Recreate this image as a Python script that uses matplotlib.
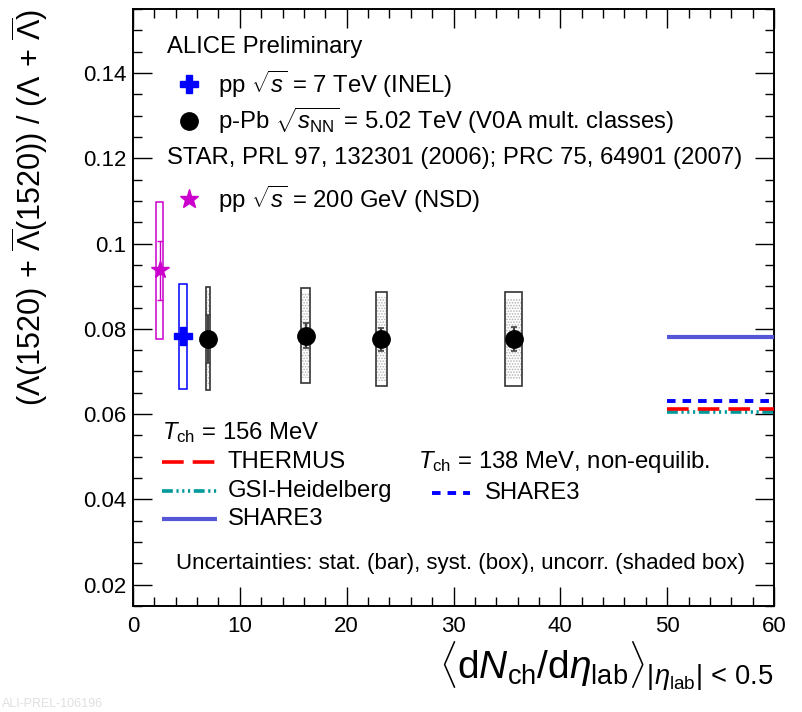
import matplotlib
matplotlib.use('Agg')
import matplotlib.pyplot as plt
from matplotlib.patches import Rectangle
from matplotlib.lines import Line2D
from matplotlib.ticker import MultipleLocator, FixedLocator

plt.rcParams['font.family'] = ['Liberation Sans', 'DejaVu Sans']
plt.rcParams['mathtext.fontset'] = 'custom'
plt.rcParams['mathtext.rm'] = 'Liberation Sans'
plt.rcParams['mathtext.it'] = 'Liberation Sans:italic'
plt.rcParams['mathtext.bf'] = 'Liberation Sans:bold'
plt.rcParams['mathtext.sf'] = 'Liberation Sans'
plt.rcParams['hatch.linewidth'] = 0.8

# ---------------- data ----------------
star_x = [2.5]
star_y = [0.0937]
star_stat = [0.0069]
star_sys = [0.0160]
star_bw = [0.7]

pp_x = [4.65]
pp_y = [0.0782]
pp_stat = [0.0012]
pp_sys = [0.0123]
pp_bw = [0.75]

ppb_x = [7.03, 16.15, 23.24, 35.64]
ppb_y = [0.0777, 0.0784, 0.0776, 0.0776]
ppb_stat = [0.0056, 0.0029, 0.0027, 0.0029]
ppb_sys = [0.0120, 0.0111, 0.0110, 0.0110]
ppb_unc = [0.0112, 0.0100, 0.0098, 0.0094]
ppb_bw = [0.42, 0.84, 1.03, 1.62]

model_x = [50, 60]
share3_eq = 0.0781
share3_neq = 0.0631
thermus = 0.0612
gsi = 0.0605

xticks = [0, 10, 20, 30, 40, 50, 60]
yticks = [0.02, 0.04, 0.06, 0.08, 0.1, 0.12, 0.14]
ytick_labels = ['0.02', '0.04', '0.06', '0.08', '0.1', '0.12', '0.14']

# ---------------- colours ----------------
c_star = '#cc00cc'
c_pp = '#0000ff'
c_share_eq = '#5656d8'
c_share_neq = '#0000ff'
c_thermus = '#ff0000'
c_gsi = '#009999'

W, H = 802, 712
fig = plt.figure(figsize=(W / 100, H / 100), dpi=100)
fig.patch.set_facecolor('white')


def px(x, y):
    return (x / W, 1 - y / H)


ax = fig.add_axes([133 / W, 1 - 606 / H, (774 - 133) / W, (606 - 9) / H])
ax.set_xlim(0, 60)
ax.set_ylim(0.015, 0.155)

ax.xaxis.set_major_locator(FixedLocator(xticks))
ax.xaxis.set_minor_locator(MultipleLocator(2))
ax.yaxis.set_major_locator(FixedLocator(yticks))
ax.set_yticklabels(ytick_labels)
ax.yaxis.set_minor_locator(MultipleLocator(0.005))
ax.tick_params(which='both', direction='in', top=True, right=True, width=1.0, colors='black')
ax.tick_params(which='major', length=13.5, labelsize=16, pad=5)
ax.tick_params(which='minor', length=6.8)
ax.tick_params(axis='x', which='major', pad=7)
for s in ax.spines.values():
    s.set_linewidth(1.4)

# ---------------- models ----------------
ax.plot(model_x, [share3_eq] * 2, color=c_share_eq, lw=3.0, solid_capstyle='butt', zorder=3)
ax.plot(model_x, [thermus] * 2, color=c_thermus, lw=2.6, dashes=(6, 2.5), zorder=3)
ax.plot(model_x, [gsi] * 2, color=c_gsi, lw=2.6, dashes=(3, 1, 0.6, 1, 0.6, 1, 0.6, 1), zorder=2)
ax.plot(model_x, [share3_neq] * 2, color=c_share_neq, lw=2.8, dashes=(2.2, 1.8), zorder=3)

# ---------------- STAR ----------------
for x, y, st, sy, bw in zip(star_x, star_y, star_stat, star_sys, star_bw):
    ax.add_patch(Rectangle((x - bw / 2, y - sy), bw, 2 * sy, fill=False,
                           edgecolor=c_star, lw=1.1, zorder=4))
ax.errorbar(star_x, star_y, yerr=star_stat, fmt='none', ecolor=c_star, elinewidth=1.0,
            capsize=2.5, capthick=1.0, zorder=5)
ax.plot(star_x, star_y, ls='none', marker='*', ms=13, color=c_star, mec=c_star, zorder=6)

# ---------------- pp 7 TeV ----------------
for x, y, sy, bw in zip(pp_x, pp_y, pp_sys, pp_bw):
    ax.add_patch(Rectangle((x - bw / 2, y - sy), bw, 2 * sy, fill=False,
                           edgecolor=c_pp, lw=1.1, zorder=4))
ax.errorbar(pp_x, pp_y, yerr=pp_stat, fmt='none', ecolor=c_pp, elinewidth=1.0, zorder=5)
ax.plot(pp_x, pp_y, ls='none', marker='P', ms=12.5, color=c_pp, mec=c_pp, zorder=6)

# ---------------- p-Pb ----------------
for x, y, sy, su, bw in zip(ppb_x, ppb_y, ppb_sys, ppb_unc, ppb_bw):
    ax.add_patch(Rectangle((x - bw / 2 + 0.06, y - su), bw - 0.12, 2 * su, facecolor='none',
                           edgecolor='#b4b4b4', hatch='......', lw=0, zorder=3))
    ax.add_patch(Rectangle((x - bw / 2, y - sy), bw, 2 * sy, fill=False,
                           edgecolor='#333333', lw=1.2, zorder=4))
ax.errorbar(ppb_x, ppb_y, yerr=ppb_stat, fmt='none', ecolor='#444444', elinewidth=1.6,
            capsize=2.5, capthick=1.2, zorder=5)
ax.plot(ppb_x, ppb_y, ls='none', marker='o', ms=12.5, color='black', zorder=6)

# ---------------- legends / texts ----------------
fs = 17.2
fig.text(*px(167, 47), 'ALICE Preliminary', fontsize=fs, ha='left', va='center')
fig.add_artist(Line2D([px(189, 84)[0]], [px(189, 84)[1]], marker='P', ms=12.5, color=c_pp, ls='none'))
fig.text(*px(218, 84), r'pp $\sqrt{s}$ = 7 TeV (INEL)', fontsize=fs, ha='left', va='center')
fig.add_artist(Line2D([px(189, 121)[0]], [px(189, 121)[1]], marker='o', ms=12.5, color='black', ls='none'))
fig.text(*px(218, 121), r'p-Pb $\sqrt{s_{\mathrm{NN}}}$ = 5.02 TeV (V0A mult. classes)', fontsize=fs,
         ha='left', va='center')
fig.text(*px(167, 158), 'STAR, PRL 97, 132301 (2006); PRC 75, 64901 (2007)', fontsize=fs,
         ha='left', va='center')
fig.add_artist(Line2D([px(189, 199)[0]], [px(189, 199)[1]], marker='*', ms=14, color=c_star, ls='none'))
fig.text(*px(218, 199), r'pp $\sqrt{s}$ = 200 GeV (NSD)', fontsize=fs, ha='left', va='center')

fig.text(*px(162, 433), r'$T_{\mathrm{ch}}$ = 156 MeV', fontsize=fs, ha='left', va='center')


def leg_line(x0, x1, y, **kw):
    (a, b), (c, d) = px(x0, y), px(x1, y)
    fig.add_artist(Line2D([a, c], [b, d], **kw))


leg_line(162, 217, 462, color=c_thermus, lw=2.6, dashes=(6, 2.5))
fig.text(*px(228, 462), 'THERMUS', fontsize=fs, ha='left', va='center')
leg_line(162, 217, 491, color=c_gsi, lw=2.6, dashes=(3, 1, 0.6, 1, 0.6, 1, 0.6, 1))
fig.text(*px(228, 491), 'GSI-Heidelberg', fontsize=fs, ha='left', va='center')
leg_line(162, 217, 519, color=c_share_eq, lw=3.0, solid_capstyle='butt')
fig.text(*px(228, 519), 'SHARE3', fontsize=fs, ha='left', va='center')

fig.text(*px(418, 462), r'$T_{\mathrm{ch}}$ = 138 MeV, non-equilib.', fontsize=fs, ha='left', va='center')
leg_line(432, 470, 493, color=c_share_neq, lw=2.8, dashes=(2.2, 1.8))
fig.text(*px(485, 493), 'SHARE3', fontsize=fs, ha='left', va='center')

fig.text(*px(176, 563), 'Uncertainties: stat. (bar), syst. (box), uncorr. (shaded box)', fontsize=16,
         ha='left', va='center')

# axis titles
fig.text(*px(30, 9), r'$(\Lambda(1520)\, +\, \overline{\Lambda}(1520))\ /\ (\Lambda\, +\, \overline{\Lambda})$',
         fontsize=22, rotation=90, ha='center', va='top')
fig.text(*px(774, 667),
         r'$\langle \mathrm{d}N_{\mathrm{ch}}/\mathrm{d}\eta_{\mathrm{lab}}\rangle_{|\eta_{\mathrm{lab}}|\,<\,0.5}$',
         fontsize=28, ha='right', va='center')

fig.text(*px(2, 704), 'ALI-PREL-106196', fontsize=9, color='#e0e0e0', ha='left', va='center')

fig.savefig('out.png', dpi=100)
